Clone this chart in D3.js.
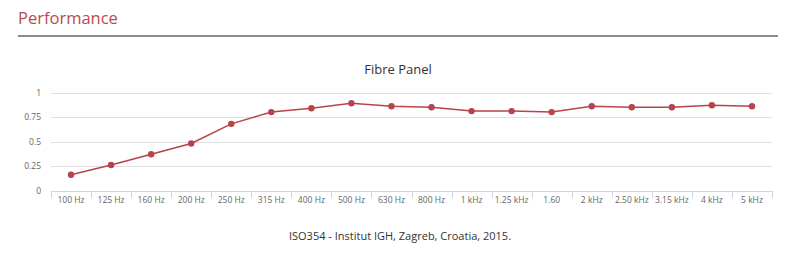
<!DOCTYPE html>
<html><head><meta charset="utf-8">
<script src="https://cdn.jsdelivr.net/npm/d3@7/dist/d3.min.js"></script>
<style>
html,body{margin:0;padding:0;background:#fff;}
svg{display:block;font-family:"Open Sans","DejaVu Sans",sans-serif;}
</style></head><body>
<svg id="c" width="800" height="253"></svg>
<script>
const categories = ["100 Hz","125 Hz","160 Hz","200 Hz","250 Hz","315 Hz","400 Hz","500 Hz","630 Hz","800 Hz","1 kHz","1.25 kHz","1.60","2 kHz","2.50 kHz","3.15 kHz","4 kHz","5 kHz"];
const values = [0.16,0.26,0.37,0.48,0.68,0.80,0.84,0.89,0.86,0.85,0.81,0.81,0.80,0.86,0.85,0.85,0.87,0.86];
const yTicks = [0,0.25,0.5,0.75,1];
const yTickLabels = ["0","0.25","0.5","0.75","1"];

const svg = d3.select("#c");
const red = "#b8434a";

svg.append("text").attr("x",18).attr("y",24).attr("fill","#b84a4f")
  .attr("font-size",16.5).text("Performance");
svg.append("rect").attr("x",18).attr("y",35).attr("width",760).attr("height",2).attr("fill","#8c8c8c");

const x = d3.scaleBand().domain(categories).range([51,772]).padding(0);
const y = d3.scaleLinear().domain([0,1]).range([190.5,92.5]);

svg.append("text").attr("x",398).attr("y",74).attr("text-anchor","middle")
  .attr("font-size",13).attr("fill","#333").text("Fibre Panel");

// grid
svg.append("g").selectAll("line").data(yTicks.filter(d=>d>0)).join("line")
  .attr("x1",51).attr("x2",772).attr("y1",d=>Math.round(y(d))+0.5).attr("y2",d=>Math.round(y(d))+0.5)
  .attr("stroke","#e0e0e0").attr("stroke-width",1);

// y labels
svg.append("g").selectAll("text").data(yTicks).join("text")
  .attr("x",41).attr("y",(d)=>y(d)+3).attr("text-anchor","end")
  .attr("font-size",8.5).attr("fill","#666").text((d,i)=>yTickLabels[i]);

// x axis
const xa = svg.append("g").attr("transform","translate(0,191)")
  .call(d3.axisBottom(x).tickSize(0).tickPadding(0));
xa.select(".domain").attr("stroke","#ccd6eb");
xa.selectAll(".tick text").attr("font-size",8.5).attr("fill","#666").attr("dy","1.45em")
  .attr("font-family","'Open Sans','DejaVu Sans',sans-serif");
const bounds = categories.map(c=>x(c)).concat([x.range()[1]]);
svg.append("g").selectAll("line").data(bounds).join("line")
  .attr("x1",d=>Math.round(d)+0.5).attr("x2",d=>Math.round(d)+0.5).attr("y1",191).attr("y2",198)
  .attr("stroke","#ccd6eb");

const cx = c => x(c)+x.bandwidth()/2;
const line = d3.line().x((d,i)=>cx(categories[i])).y(d=>y(d));
svg.append("path").datum(values).attr("d",line).attr("fill","none")
  .attr("stroke",red).attr("stroke-width",1.5);
svg.append("g").selectAll("circle").data(values).join("circle")
  .attr("cx",(d,i)=>cx(categories[i])).attr("cy",d=>y(d)).attr("r",3.2).attr("fill",red);

svg.append("text").attr("x",400).attr("y",240).attr("text-anchor","middle")
  .attr("font-size",11).attr("fill","#333").text("ISO354 - Institut IGH, Zagreb, Croatia, 2015.");
</script></body></html>
